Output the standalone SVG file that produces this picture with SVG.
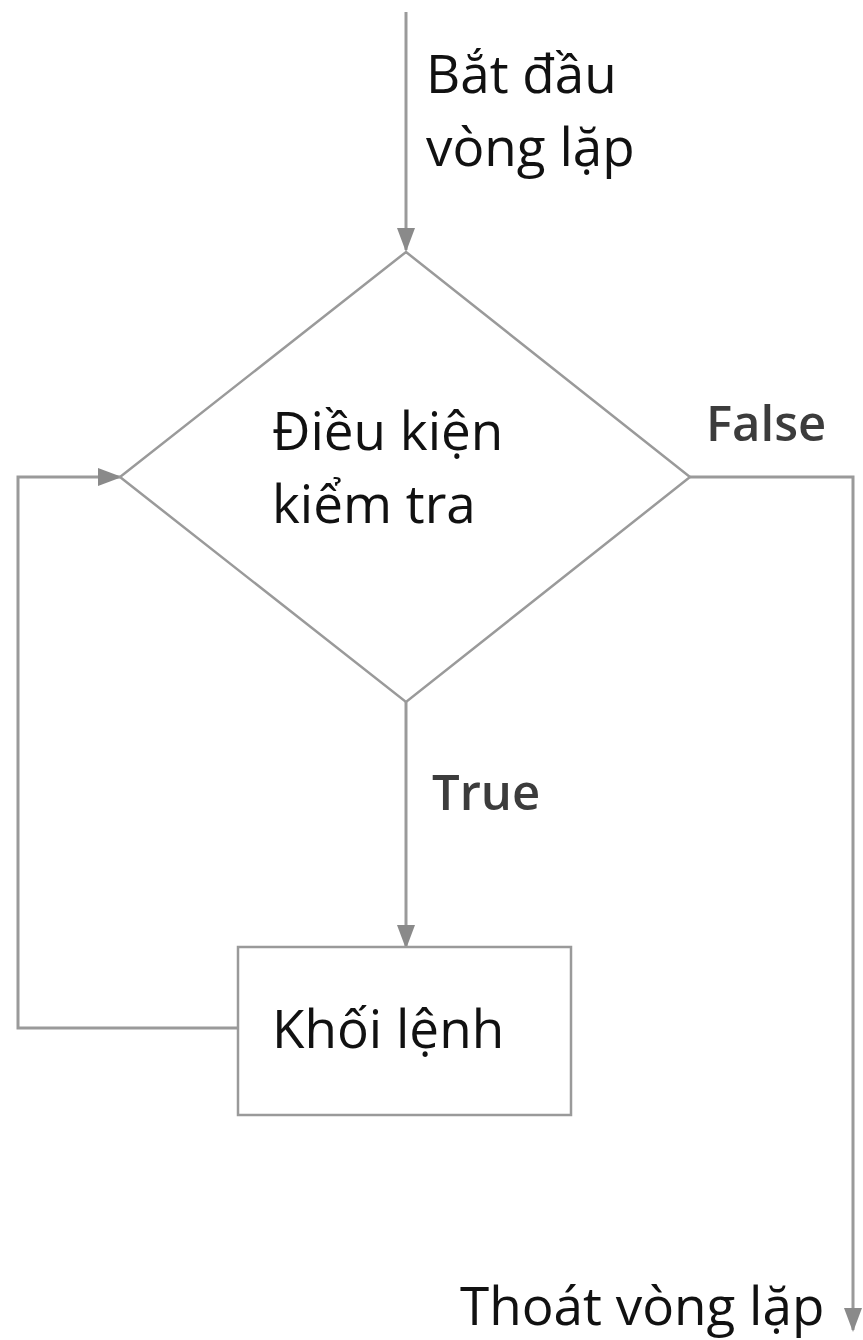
<svg xmlns="http://www.w3.org/2000/svg" width="863" height="1340" viewBox="0 0 863 1340">
<style>
.ln{fill:none;stroke:#9a9a9a;stroke-width:3}
.sh{fill:#fff;stroke:#9a9a9a;stroke-width:2.5}
.t{font-family:"Open Sans","Liberation Sans",sans-serif;font-size:53px;fill:#111}
.lb{font-family:"Open Sans","Liberation Sans",sans-serif;font-size:49px;font-weight:600;fill:#3c3c3c}
</style>
<defs>
<marker id="ahb" markerWidth="24" markerHeight="24" refX="22" refY="12" orient="auto" markerUnits="userSpaceOnUse" viewBox="0 0 24 24">
<path d="M0,3 L24,12 L0,21 z" fill="#8a8a8a"/>
</marker>
</defs>
<g id="connectors">
<path class="ln" d="M406,12 V250" marker-end="url(#ahb)"/>
<path class="ln" d="M406,702 V947" marker-end="url(#ahb)"/>
<path class="ln" d="M238,1028 H18 V477 H120" marker-end="url(#ahb)"/>
<path class="ln" d="M690,477 H853 V1330" marker-end="url(#ahb)"/>
</g>
<g id="start-label">
<text class="t" x="426" y="93">Bắt đầu</text>
<text class="t" x="426" y="166">vòng lặp</text>
</g>
<g id="condition">
<polygon class="sh" points="406,252 690,477 406,702 120,477"/>
<text class="t" x="272" y="450">Điều kiện</text>
<text class="t" x="272" y="523">kiểm tra</text>
</g>
<g id="block">
<rect class="sh" x="238" y="947" width="333" height="168"/>
<text class="t" x="272" y="1048">Khối lệnh</text>
</g>
<g id="edge-labels">
<text class="lb" x="706" y="441">False</text>
<text class="lb" x="432" y="810">True</text>
</g>
<g id="exit-label">
<text class="t" x="460" y="1325">Thoát vòng lặp</text>
</g>
</svg>
